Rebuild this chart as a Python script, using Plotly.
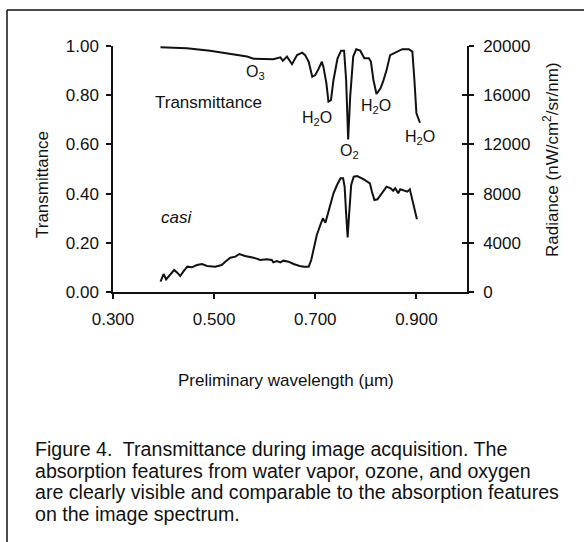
import plotly.graph_objects as go

# ---- data ----
trans_wl = [0.394, 0.446, 0.492, 0.538, 0.565, 0.578, 0.604, 0.617, 0.631, 0.636, 0.644, 0.654,
            0.664, 0.674, 0.680, 0.687, 0.694, 0.700, 0.707, 0.713, 0.716, 0.722, 0.726, 0.731,
            0.736, 0.744, 0.751, 0.757, 0.761, 0.765, 0.769, 0.775, 0.781, 0.789, 0.797, 0.806,
            0.810, 0.815, 0.821, 0.829, 0.834, 0.841, 0.848, 0.862, 0.872, 0.885, 0.892, 0.896,
            0.900, 0.907]
trans_val = [0.995, 0.991, 0.981, 0.967, 0.957, 0.948, 0.948, 0.946, 0.954, 0.940, 0.957, 0.926,
             0.963, 0.973, 0.963, 0.936, 0.875, 0.882, 0.909, 0.936, 0.916, 0.848, 0.774, 0.780,
             0.862, 0.950, 0.981, 0.981, 0.862, 0.620, 0.794, 0.957, 0.987, 0.981, 0.950, 0.950,
             0.936, 0.862, 0.805, 0.828, 0.855, 0.902, 0.963, 0.977, 0.987, 0.987, 0.977, 0.862,
             0.726, 0.688]

rad_wl = [0.394, 0.400, 0.405, 0.413, 0.421, 0.427, 0.433, 0.439, 0.447, 0.456, 0.466, 0.476,
          0.486, 0.502, 0.515, 0.522, 0.532, 0.542, 0.550, 0.561, 0.578, 0.591, 0.604, 0.614,
          0.617, 0.624, 0.631, 0.637, 0.647, 0.657, 0.669, 0.678, 0.687, 0.692, 0.697, 0.703,
          0.710, 0.715, 0.720, 0.724, 0.729, 0.736, 0.743, 0.750, 0.755, 0.758, 0.761, 0.764,
          0.767, 0.771, 0.776, 0.783, 0.796, 0.808, 0.812, 0.817, 0.823, 0.832, 0.841, 0.849,
          0.854, 0.858, 0.864, 0.868, 0.875, 0.882, 0.887, 0.891, 0.896, 0.901]
rad_val = [837, 1463, 1030, 1382, 1789, 1572, 1301, 1653, 2060, 2005, 2195, 2277,
           2114, 2060, 2195, 2466, 2792, 2873, 3089, 2927, 2792, 2602, 2656, 2602,
           2412, 2520, 2412, 2548, 2466, 2277, 2114, 2060, 2060, 2602, 3550, 4634,
           5448, 5990, 5638, 6261, 6938, 8024, 8700, 9242, 9242, 8565, 6396, 4444,
           6396, 8700, 9377, 9431, 9160, 8837, 8156, 7480, 7536, 8024, 8565, 8430,
           8237, 8430, 8024, 8349, 8237, 8156, 8349, 7617, 6667, 5909]

x_ticks = [0.3, 0.5, 0.7, 0.9]
x_ticklabels = ["0.300", "0.500", "0.700", "0.900"]
y_ticks = [0, 0.2, 0.4, 0.6, 0.8, 1.0]
y_ticklabels = ["0.00", "0.20", "0.40", "0.60", "0.80", "1.00"]
y2_ticks = [0, 4000, 8000, 12000, 16000, 20000]
y2_ticklabels = ["0", "4000", "8000", "12000", "16000", "20000"]

caption_lines = [
    "Figure 4.  Transmittance during image acquisition. The",
    "absorption features from water vapor, ozone, and oxygen",
    "are clearly visible and comparable to the absorption features",
    "on the image spectrum.",
]

# ---- geometry ----
W, H = 584, 542
L, R, T, B = 113, 467, 46, 292
FONT = "Liberation Sans, Arial, Helvetica, sans-serif"
INK = "#111111"


def px(xp):
    return (xp - L) / (R - L)


def py(yp):
    return (B - yp) / (B - T)


fig = go.Figure()
fig.add_trace(go.Scatter(x=trans_wl, y=trans_val, mode="lines",
                         line=dict(color=INK, width=2), yaxis="y", showlegend=False))
fig.add_trace(go.Scatter(x=rad_wl, y=rad_val, mode="lines",
                         line=dict(color=INK, width=2), yaxis="y2", showlegend=False))
# invisible trace to activate the inner-tick axis
fig.add_trace(go.Scatter(x=[0.3], y=[0], mode="lines", yaxis="y3",
                         line=dict(width=0), showlegend=False, hoverinfo="skip"))

tickfont = dict(family=FONT, size=17, color=INK)

fig.update_layout(
    width=W, height=H, autosize=False,
    margin=dict(l=L, r=W - R, t=T, b=H - B, pad=0),
    paper_bgcolor="white", plot_bgcolor="white",
    xaxis=dict(range=[0.3, 1.0], tickvals=x_ticks, ticktext=x_ticklabels,
               ticks="outside", ticklen=5, tickwidth=1.5, tickcolor=INK,
               showline=True, linecolor=INK, linewidth=1.5, showgrid=False,
               zeroline=False, tickfont=tickfont, ticklabelstandoff=6),
    yaxis=dict(range=[0, 1.0], tickvals=y_ticks, ticktext=y_ticklabels,
               ticks="outside", ticklen=5, tickwidth=1.5, tickcolor=INK,
               showline=True, linecolor=INK, linewidth=1.5, showgrid=False,
               zeroline=False, tickfont=tickfont, ticklabelstandoff=4),
    yaxis2=dict(range=[0, 20000], tickvals=y2_ticks, ticktext=y2_ticklabels,
                overlaying="y", side="right", anchor="x",
                ticks="outside", ticklen=5, tickwidth=1.5, tickcolor=INK,
                showline=True, linecolor=INK, linewidth=1.5, showgrid=False,
                zeroline=False, tickfont=tickfont, ticklabelstandoff=6),
    yaxis3=dict(range=[0, 20000], tickvals=y2_ticks[1:], overlaying="y", side="right",
                anchor="x", ticks="inside", ticklen=5, tickwidth=1.5, tickcolor=INK,
                showticklabels=False, showline=False, showgrid=False, zeroline=False),
)

ann = []


def add_text(text, xp, yp, size=17, italic=False, angle=0, xanchor="center"):
    ann.append(dict(text=text, x=px(xp), y=py(yp), xref="paper", yref="paper",
                    showarrow=False, xanchor=xanchor, yanchor="middle", textangle=angle,
                    font=dict(family=FONT, size=size, color=INK,
                              style="italic" if italic else "normal")))


# curve labels
add_text("Transmittance", 208, 102)
add_text("O<sub>3</sub>", 255, 72, size=16)
add_text("H<sub>2</sub>O", 317, 118, size=16)
add_text("O<sub>2</sub>", 349, 151, size=16)
add_text("H<sub>2</sub>O", 376, 106, size=16)
add_text("H<sub>2</sub>O", 420, 137, size=16)
add_text("casi", 176, 217, italic=True)

# axis titles
add_text("Transmittance", 42, 185, angle=-90)
add_text("Radiance (nW/cm<sup>2</sup>/sr/nm)", 551, 160, angle=-90)
add_text("Preliminary wavelength (\u00b5m)", 286, 380)

# caption
for i, line in enumerate(caption_lines):
    add_text(line, 33, 449 + 21.5 * i, size=19.6, xanchor="left")

fig.update_layout(annotations=ann)

# frame lines (top and left border of the figure box)
fig.add_shape(type="line", xref="paper", yref="paper",
              x0=px(7), y0=py(10), x1=px(584), y1=py(10),
              line=dict(color=INK, width=1.5))
fig.add_shape(type="line", xref="paper", yref="paper",
              x0=px(7), y0=py(10), x1=px(7), y1=py(542),
              line=dict(color=INK, width=1.5))

fig.write_html("out.html")
